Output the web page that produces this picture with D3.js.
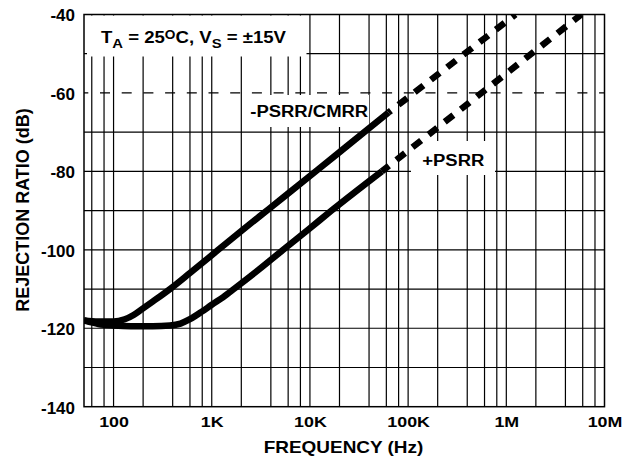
<!DOCTYPE html>
<html><head><meta charset="utf-8">
<script src="https://cdn.jsdelivr.net/npm/d3@7"></script>
<style>
body{margin:0;background:#fff}
text{font-family:"Liberation Sans",Arial,Helvetica,sans-serif;font-weight:bold;fill:#000}
</style>
</head><body>
<svg id="c" width="632" height="462"></svg>
<script>
// ---- data ----
const freqDomain = [50, 1e7];
const dbDomain = [-140, -40];
const xTickValues = [100, 1e3, 1e4, 1e5, 1e6, 1e7];
const xTickLabels = ["100", "1K", "10K", "100K", "1M", "10M"];
const yTickValues = [-40, -60, -80, -100, -120, -140];
const yTickLabels = ["-40", "-60", "-80", "-100", "-120", "-140"];
const gridFreqs = [60, 80, 100, 200, 400, 600, 800, 1e3, 2e3, 4e3, 6e3, 8e3, 1e4, 2e4, 4e4, 6e4, 8e4,
                   1e5, 2e5, 4e5, 6e5, 8e5, 1e6, 2e6, 4e6, 6e6, 8e6];
const gridDb = [-130, -120, -110, -100, -90, -80, -70, -50];
const dashedGridDb = [-60];

// -PSRR/CMRR (measured, solid)
const negPsrrFreq = [50, 70, 100, 130, 160, 190, 250, 375, 600, 1165, 2000, 3760, 12000, 24000, 63000];
const negPsrrDb   = [-118, -118.3, -118.3, -117.7, -116.6, -115.3, -113.2, -110, -105.9, -100, -95.2, -89.7, -79.6, -73.5, -65];
// -PSRR/CMRR (extrapolated, dashed)
const negPsrrExtFreq = [63000, 1240000];
const negPsrrExtDb   = [-65, -40];

// +PSRR (measured, solid)
const posPsrrFreq = [50, 70, 100, 150, 250, 375, 480, 600, 800, 1000, 1300, 1720, 3000, 5340, 10000, 16600, 54000];
const posPsrrDb   = [-118, -118.9, -119.3, -119.5, -119.5, -119.3, -118.8, -117.7, -115.7, -114.0, -112.1, -109.8, -105.1, -100, -94.5, -90, -80];
// +PSRR (extrapolated, dashed)
const posPsrrExtFreq = [54000, 5800000];
const posPsrrExtDb   = [-80, -40];

const seriesLabels = ["-PSRR/CMRR", "+PSRR"];
const xTitle = "FREQUENCY (Hz)";
const yTitle = "REJECTION RATIO (dB)";

// ---- layout ----
const L = 84, R = 604.5, T = 14.5, B = 406.7;
const svg = d3.select("#c");
const x = d3.scaleLog().domain(freqDomain).range([L, R]);
const y = d3.scaleLinear().domain(dbDomain).range([B, T]);

function stext(g, px, py, str, size, sx, anchor) {
  return g.append("text")
    .attr("transform", `translate(${px},${py}) scale(${sx},1)`)
    .attr("font-size", size)
    .attr("text-anchor", anchor)
    .text(str);
}

// grid
const grid = svg.append("g").attr("stroke", "#000").attr("stroke-width", 1.2).attr("fill", "none");
grid.selectAll("line.v").data(gridFreqs).join("line").attr("class", "v")
  .attr("x1", d => x(d)).attr("x2", d => x(d)).attr("y1", T).attr("y2", B);
grid.selectAll("line.h").data(gridDb).join("line").attr("class", "h")
  .attr("x1", L).attr("x2", R).attr("y1", d => y(d)).attr("y2", d => y(d));
grid.selectAll("line.hd").data(dashedGridDb).join("line").attr("class", "hd")
  .attr("x1", L).attr("x2", R).attr("y1", d => y(d)).attr("y2", d => y(d))
  .attr("stroke-dasharray", "10,11.7").attr("stroke-dashoffset", 5.7);

// white label boxes
svg.append("rect").attr("x", 87).attr("y", 15.5).attr("width", 219.5).attr("height", 41).attr("fill", "#fff");
svg.append("rect").attr("x", 244).attr("y", 95).attr("width", 125).attr("height", 32).attr("fill", "#fff");
svg.append("rect").attr("x", 411).attr("y", 141).attr("width", 84).attr("height", 34).attr("fill", "#fff");

// border
svg.append("rect").attr("x", L).attr("y", T).attr("width", R - L).attr("height", B - T)
  .attr("fill", "none").attr("stroke", "#000").attr("stroke-width", 1.5);

// axes via d3 axis (text drawn per tick)
const xAxis = d3.axisBottom(x).tickValues(xTickValues).tickFormat((d, i) => xTickLabels[i]).tickSize(0);
const gx = svg.append("g").attr("transform", `translate(0,${B})`).call(xAxis);
gx.select(".domain").remove();
gx.selectAll("text").remove();
gx.selectAll(".tick").each(function(d, i) {
  stext(d3.select(this), 0, 427 - B, xTickLabels[i], 15.5, 1.15, "middle");
});

const yAxis = d3.axisLeft(y).tickValues(yTickValues).tickFormat((d, i) => yTickLabels[i]).tickSize(0);
const gy = svg.append("g").attr("transform", `translate(${L},0)`).call(yAxis);
gy.select(".domain").remove();
gy.selectAll("text").remove();
gy.selectAll(".tick").each(function(d, i) {
  stext(d3.select(this), 75 - L, 6.3, yTickLabels[i], 17, 1.0, "end");
});

// axis titles
stext(svg, 343.5, 453.3, xTitle, 16.2, 1.17, "middle");
svg.append("text").attr("transform", "translate(28.5,210) rotate(-90)")
  .attr("font-size", 18).attr("text-anchor", "middle").text(yTitle);

// annotation
const ann = svg.append("text").attr("transform", "translate(101,43.3) scale(1.14,1)").attr("font-size", 16.3);
ann.append("tspan").text("T");
ann.append("tspan").attr("font-size", 13).attr("dy", 5).text("A");
ann.append("tspan").attr("dy", -5).text(" = 25");
ann.append("tspan").attr("font-size", 12).attr("dy", -4).text("O");
ann.append("tspan").attr("dy", 4).text("C, V");
ann.append("tspan").attr("font-size", 13).attr("dy", 5).text("S");
ann.append("tspan").attr("dy", -5).text(" = \u00B115V");

// curve labels
stext(svg, 309.2, 117.3, seriesLabels[0], 16.8, 1.1, "middle");
stext(svg, 453.3, 166.3, seriesLabels[1], 16.8, 1.1, "middle");

// curves
svg.append("clipPath").attr("id", "pc").append("rect").attr("x", L).attr("y", T).attr("width", R - L).attr("height", B - T);
const cg = svg.append("g").attr("clip-path", "url(#pc)");
const smooth = d3.line().x(d => x(d[0])).y(d => y(d[1])).curve(d3.curveMonotoneX);
const straight = d3.line().x(d => x(d[0])).y(d => y(d[1]));
const zip = (a, b) => a.map((v, i) => [v, b[i]]);

cg.append("path").attr("d", smooth(zip(negPsrrFreq, negPsrrDb)))
  .attr("fill", "none").attr("stroke", "#000").attr("stroke-width", 6.5);
cg.append("path").attr("d", smooth(zip(posPsrrFreq, posPsrrDb)))
  .attr("fill", "none").attr("stroke", "#000").attr("stroke-width", 6.5);
cg.append("path").attr("d", straight(zip(negPsrrExtFreq, negPsrrExtDb)))
  .attr("fill", "none").attr("stroke", "#000").attr("stroke-width", 6.5)
  .attr("stroke-dasharray", "11,9.5").attr("stroke-dashoffset", 7.8);
cg.append("path").attr("d", straight(zip(posPsrrExtFreq, posPsrrExtDb)))
  .attr("fill", "none").attr("stroke", "#000").attr("stroke-width", 6.5)
  .attr("stroke-dasharray", "11,9.5").attr("stroke-dashoffset", 2);
</script>
</body></html>
